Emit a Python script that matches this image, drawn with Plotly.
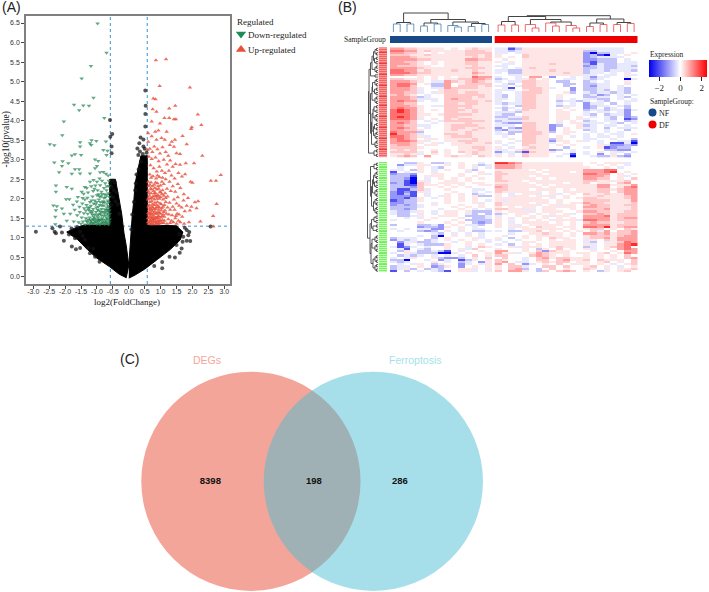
import plotly.graph_objects as go

W, H = 709, 592

# volcano: hand read points (log2FC, -log10 p)
fc_cut = 0.58
p_cut = 1.3
x_ticks = [-3.0, -2.5, -2.0, -1.5, -1.0, -0.5, 0.0, 0.5, 1.0, 1.5, 2.0, 2.5, 3.0]
y_ticks = [0.0, 0.5, 1.0, 1.5, 2.0, 2.5, 3.0, 3.5, 4.0, 4.5, 5.0, 5.5, 6.0, 6.5]

down_pts = [
    (-.98, 6.49), (-.70, 5.74), (-1.19, 5.40), (-1.48, 5.08), (-1.11, 4.59), (-1.72, 4.41), (-1.43, 4.39), (-1.56, 4.27),
    (-1.25, 4.38), (-2.04, 3.98), (-.77, 4.07), (-2.09, 3.63), (-2.48, 3.40), (-2.34, 3.37), (-1.53, 3.45), (-1.53, 3.34),
    (-1.17, 3.50), (-1.02, 3.48), (-1.22, 3.42), (-1.18, 3.38), (-.72, 3.47), (-.80, 3.25), (-.67, 3.23), (-1.79, 3.11),
    (-1.69, 3.14), (-1.50, 3.12), (-.70, 3.12), (-1.06, 3.01), (-.96, 2.97), (-2.08, 2.96), (-2.34, 2.93), (-1.90, 2.91),
    (-2.10, 2.84), (-2.19, 2.68), (-1.69, 2.76), (-1.56, 2.76), (-1.79, 2.64), (-1.53, 2.65), (-1.22, 2.65), (-1.00, 2.84),
    (-1.06, 2.78), (-.90, 2.68), (-.80, 2.69), (-.72, 2.64), (-.65, 2.60), (-2.29, 2.34), (-2.29, 2.18), (-1.95, 2.30),
    (-1.79, 2.26), (-1.38, 2.30), (-1.22, 2.44), (-1.11, 2.48), (-1.00, 2.44), (-.92, 2.52), (-.84, 2.46), (-.74, 2.40),
    (-.63, 2.46), (-.62, 2.32), (-1.48, 2.18), (-1.97, 1.99), (-1.87, 1.99), (-1.63, 1.93), (-2.37, 1.83), (-2.26, 1.81),
    (-2.10, 1.75), (-2.29, 1.71), (-2.31, 1.54), (-2.04, 1.62), (-1.84, 1.62), (-2.31, 1.35), (-1.95, 1.44), (-1.75, 1.85),
    (-1.70, 1.72), (-1.60, 2.05), (-1.42, 2.13), (-1.32, 2.28), (-1.28, 2.16), (-1.18, 2.32), (-1.12, 2.20), (-1.05, 2.34),
    (-.98, 2.22), (-.90, 2.35), (-.86, 2.18), (-.78, 2.28), (-.70, 2.22), (-.64, 2.14), (-1.38, 1.98), (-1.30, 2.03),
    (-1.22, 1.92), (-1.14, 2.06), (-1.07, 1.96), (-1.00, 2.09), (-.94, 1.98), (-.87, 2.06), (-.80, 1.94), (-.73, 2.04),
    (-.66, 1.96), (-.61, 2.05), (-1.55, 1.80), (-1.46, 1.88), (-1.40, 1.76), (-1.33, 1.84), (-1.26, 1.72), (-1.19, 1.82),
    (-1.12, 1.74), (-1.04, 1.86), (-.98, 1.72), (-.91, 1.84), (-.85, 1.74), (-.78, 1.83), (-.71, 1.72), (-.65, 1.82),
    (-.61, 1.70), (-1.62, 1.58), (-1.54, 1.66), (-1.48, 1.52), (-1.41, 1.63), (-1.35, 1.50), (-1.29, 1.62), (-1.23, 1.52),
    (-1.17, 1.64), (-1.10, 1.54), (-1.03, 1.66), (-.96, 1.53), (-.90, 1.62), (-.84, 1.50), (-.77, 1.63), (-.70, 1.52),
    (-.64, 1.60), (-.60, 1.48), (-1.73, 1.42), (-1.58, 1.40), (-1.50, 1.36), (-1.44, 1.42), (-1.37, 1.34), (-1.30, 1.41),
    (-1.24, 1.35), (-1.18, 1.43), (-1.12, 1.36), (-1.06, 1.44), (-1.00, 1.35), (-.94, 1.43), (-.88, 1.36), (-.82, 1.42),
    (-.76, 1.35), (-.71, 1.42), (-.66, 1.36), (-.61, 1.40), (-1.35, 1.70), (-1.15, 1.68), (-.93, 1.70), (-.74, 1.66),
    (-1.24, 1.78), (-1.02, 1.78), (-.82, 1.90), (-.68, 1.88), (-1.10, 1.47), (-.92, 1.46), (-.73, 1.46), (-.79, 1.56),
    (-.62, 1.55), (-.66, 1.70), (-.86, 1.58), (-1.45, 2.02), (-1.08, 2.26), (-.95, 2.12), (-.76, 2.12), (-.69, 2.32),
    (-.63, 1.34), (-.69, 1.38), (-.74, 1.40), (-.79, 1.38), (-.85, 1.39), (-.91, 1.34), (-.97, 1.39), (-1.03, 1.41),
    (-1.09, 1.39), (-1.15, 1.39), (-1.21, 1.39), (-.63, 1.46), (-.68, 1.49), (-.72, 1.58), (-.81, 1.47), (-.87, 1.46),
    (-.94, 1.48), (-.99, 1.46), (-1.05, 1.50), (-1.13, 1.49), (-1.20, 1.46), (-1.27, 1.47), (-1.33, 1.44), (-.60, 1.62),
    (-.67, 1.63), (-.75, 1.73), (-.82, 1.67), (-.88, 1.66), (-.95, 1.60), (-1.00, 1.58), (-1.07, 1.60), (-1.14, 1.59),
    (-1.21, 1.68), (-1.28, 1.77), (-.62, 1.78), (-.69, 1.78), (-.76, 1.91), (-.84, 1.82), (-.90, 1.92), (-.96, 1.80),
    (-1.01, 1.92), (-1.10, 1.88), (-1.17, 1.96), (-.63, 1.92), (-.70, 2.10), (-.78, 2.02), (-.84, 2.12), (-.92, 2.06),
]

up_pts = [
    (.85, 5.55), (1.17, 5.57), (.97, 4.89), (1.92, 4.85), (.77, 4.57), (.84, 4.55), (1.46, 4.38), (1.27, 4.31),
    (.75, 4.29), (.87, 4.23), (2.17, 4.16), (1.12, 4.07), (1.27, 4.07), (1.42, 4.04), (1.48, 4.04), (.98, 3.93),
    (.72, 3.98), (2.28, 3.89), (1.98, 3.83), (1.96, 3.79), (.83, 3.72), (.61, 3.68), (1.19, 3.72), (.93, 3.75),
    (1.69, 3.61), (1.45, 3.51), (1.35, 3.46), (1.29, 3.38), (1.13, 3.51), (1.03, 3.56), (.87, 3.51), (.72, 3.60),
    (.59, 3.25), (.61, 3.46), (1.82, 3.40), (1.42, 3.33), (1.50, 3.17), (1.61, 3.15), (2.31, 3.10), (1.79, 2.91),
    (2.05, 2.91), (1.61, 2.87), (1.47, 2.89), (2.89, 2.61), (2.58, 2.46), (2.74, 2.46), (1.94, 2.44), (2.00, 2.41),
    (1.77, 2.63), (1.56, 2.66), (1.67, 2.57), (2.76, 1.87), (2.18, 1.94), (2.08, 1.91), (1.97, 1.80), (2.65, 1.56),
    (2.25, 1.42), (1.89, 1.40), (2.13, 1.76), (1.73, 2.12), (2.65, 1.29), (.66, 3.28), (.74, 3.20), (.80, 3.34),
    (.90, 3.27), (.98, 3.16), (1.06, 3.32), (1.16, 3.20), (1.24, 3.10), (1.30, 2.98), (1.38, 2.82), (1.20, 2.88),
    (1.10, 3.00), (.94, 2.96), (.84, 3.06), (.72, 3.02), (.63, 3.08), (.68, 2.86), (.78, 2.78), (.88, 2.70),
    (.96, 2.82), (1.04, 2.72), (1.14, 2.66), (1.26, 2.72), (1.34, 2.60), (1.44, 2.52), (1.54, 2.38), (1.62, 2.28),
    (1.72, 1.96), (1.82, 1.82), (1.86, 2.02), (1.76, 1.68), (1.68, 1.54), (1.62, 1.40), (1.74, 1.36), (1.92, 1.70),
    (1.58, 1.82), (1.54, 2.04), (1.46, 2.18), (1.38, 2.32), (1.28, 2.44), (1.16, 2.50), (1.06, 2.54), (.96, 2.56),
    (.86, 2.52), (.76, 2.58), (.66, 2.62), (.61, 2.44), (.70, 2.42), (.80, 2.36), (.90, 2.40), (1.00, 2.34),
    (1.10, 2.38), (1.20, 2.26), (1.32, 2.20), (1.42, 1.98), (1.50, 1.88), (1.44, 1.72), (1.52, 1.62), (1.46, 1.50),
    (1.56, 1.44), (1.50, 1.36), (1.40, 1.40), (1.36, 1.58), (1.30, 1.72), (1.28, 1.90), (1.22, 2.06), (1.14, 2.14),
    (1.06, 2.22), (.98, 2.18), (.88, 2.24), (.78, 2.20), (.68, 2.26), (.61, 2.20), (.65, 2.08), (.73, 2.02),
    (.82, 2.08), (.91, 2.10), (1.00, 2.04), (1.08, 1.98), (1.16, 1.92), (1.22, 1.78), (1.18, 1.62), (1.24, 1.48),
    (1.30, 1.38), (1.20, 1.36), (1.12, 1.44), (1.08, 1.60), (1.04, 1.76), (.98, 1.88), (.90, 1.92), (.82, 1.90),
    (.74, 1.86), (.66, 1.92), (.60, 1.98), (.62, 1.80), (.70, 1.72), (.78, 1.74), (.86, 1.78), (.94, 1.72),
    (1.00, 1.62), (.92, 1.56), (.84, 1.62), (.76, 1.58), (.68, 1.60), (.61, 1.64), (.60, 1.50), (.66, 1.46),
    (.74, 1.44), (.82, 1.48), (.90, 1.42), (.98, 1.46), (1.04, 1.38), (.94, 1.35), (.86, 1.36), (.78, 1.35),
    (.70, 1.35), (.63, 1.36), (.60, 1.40), (.72, 1.52), (.80, 1.54), (.88, 1.50), (.64, 1.72), (.72, 1.94),
    (.80, 1.98), (.88, 2.00), (.96, 2.00), (1.12, 1.84), (1.14, 1.70), (1.34, 1.44), (1.16, 2.02), (.70, 2.14),
    (.84, 2.14), (.94, 2.26), (1.04, 2.12), (1.26, 1.60), (1.38, 1.80), (1.48, 1.56), (1.58, 1.60), (1.66, 1.78),
    (.64, 1.40), (.68, 1.42), (.72, 1.38), (.76, 1.44), (.80, 1.40), (.84, 1.42), (.88, 1.38), (.92, 1.44),
    (.96, 1.38), (1.00, 1.42), (1.06, 1.46), (1.10, 1.38), (.63, 1.52), (.67, 1.54), (.71, 1.47), (.75, 1.51),
    (.79, 1.48), (.85, 1.52), (.91, 1.50), (.95, 1.54), (1.01, 1.52), (1.05, 1.56), (1.12, 1.54), (.62, 1.60),
    (.66, 1.66), (.70, 1.62), (.74, 1.68), (.78, 1.64), (.82, 1.68), (.88, 1.62), (.92, 1.66), (.96, 1.64),
    (1.02, 1.70), (1.10, 1.66), (.64, 1.84), (.67, 1.76), (.72, 1.80), (.76, 1.78), (.80, 1.84), (.84, 1.74),
    (.88, 1.84), (.92, 1.80), (.96, 1.78), (1.02, 1.86), (1.08, 1.80), (.62, 2.02), (.68, 2.00), (.76, 2.06),
    (.80, 2.14), (.86, 2.06), (.94, 2.06), (1.00, 2.16), (1.10, 2.08), (.63, 2.14), (.72, 2.24), (.82, 2.28),
    (.92, 2.32), (.62, 2.32), (.74, 2.32), (.84, 2.42), (1.04, 2.44), (.66, 2.36), (.70, 2.54), (.90, 2.60),
]

# dense black part of the volcano, outline
mass_left_x = [0, -.03, -.08, -.15, -.22, -.3, -.38, -.42, -.6, -.6, -1.4, -1.7, -1.95, -1.6, -1.3, -1.0, -.6, -.3, -.08, 0]
mass_left_y = [.3, .55, .8, 1.12, 1.6, 1.97, 2.4, 2.5, 2.5, 1.33, 1.33, 1.25, 1.15, .95, .7, .48, .26, .07, -.02, .3]
mass_right_x = [0, .02, .05, .07, .11, .16, .2, .3, .38, .58, .58, 1.5, 1.7, 1.62, 1.3, .9, .5, .2, 0]
mass_right_y = [.3, .55, .8, 1.12, 1.6, 1.97, 2.4, 2.8, 3.1, 3.1, 1.33, 1.31, 1.15, .95, .7, .45, .2, .05, -.03]

other_pts = [
    (-2.92, 1.16), (-2.40, 1.25), (-2.33, 1.16), (-2.29, 1.12), (-2.16, 1.29), (-2.04, .93), (-1.88, 1.09), (-1.79, .78),
    (-1.66, .71), (-1.53, .74), (-1.69, .99), (-1.53, 1.16), (-1.38, .95), (-1.27, .74), (-1.22, .61), (-1.06, .52),
    (-.92, .39), (-2.10, 1.14), (-1.80, 1.24), (-1.62, 1.28), (-1.45, 1.05), (-1.12, .72), (-.59, 4.02), (-.52, 3.66),
    (-.58, 3.59), (-.54, 3.34), (-.54, 3.17), (-.50, 2.46), (-.44, 2.42), (-.58, 2.40), (-.54, 2.30), (-.47, 2.22),
    (-.39, 2.16), (-.58, 2.12), (-.50, 2.04), (-.42, 1.94), (-.35, 1.86), (-.55, 1.84), (-.30, 1.62), (-.62, 1.70),
    (.52, 4.77), (.53, 4.38), (.52, 4.17), (.52, 3.85), (.37, 3.57), (.46, 3.52), (.33, 3.42), (.27, 3.29),
    (.35, 3.21), (.46, 3.34), (.50, 3.28), (.56, 3.18), (.30, 3.12), (.44, 3.15), (.38, 2.95), (.24, 2.62),
    (.22, 2.40), (.20, 2.22), (.16, 1.92), (.11, 1.60), (.08, 1.22), (.31, 2.76), (2.57, 1.29), (1.82, 1.20),
    (1.87, 1.07), (1.71, 1.03), (1.69, .90), (1.82, .93), (1.66, .73), (1.45, .50), (1.05, .22), (1.50, .82),
    (1.76, 1.26), (1.90, 1.15), (1.58, 1.10), (1.93, .92), (1.60, .62), (1.28, .52), (1.05, .38), (.80, .28),
]

# heatmap cells, one character per cell: levels in code below
heat_levels = {".": 0, "1": .25, "2": .55, "3": .95, "4": 1.4, "5": 2.1,
               "a": -.25, "b": -.7, "c": -1.2, "d": -2.0, "e": -2.9}

heat_upper_left = [
    "33221111.1.1211", "443312111112221", "33221.1.1112222", "222112111112212", "333211111111212",
    "333322111113322", "33221.1.1112211", "33321.1.1112211", "322211..1111211", "333321111112221",
    "443312111211211", "444322111111321", "332211111111211", "....1.1.1.11433", "22111.1.1122332",
    "33321.aa3212321", "3443.1bb3.12222", "3442..bb3.22212", "33321.aa3222211", "3332a..12211111",
    "3322a.a12212211", "2321.a..2222221", "3332ba..2222121", "3332aaa.2322111", "3433a.a.2222212",
    "3322....2212211", "33321.aa2222111", "34331...2212111", "45431.1.2221211", "45431...2211211",
    "444311.12222111", "45431...2211111", "4443a.1.2122111", "3332.a.a2222221", "3432..a.1112111",
    "3322aa..1222211", "3432.a..1221121", "33221...1211211", "4333b...1112111", "5332a...2212111",
    "44321a..1222111", "3432.11.1111211", "34431a..1122211", "33321.1a.112112", "2332.11..111111",
    "22221.....11221", "1212..1.1.11121", "22221.2.1.21211", "1121a.1.1..1211", "1232.3..1211.21",
]
heat_upper_right = [
    "aadb1111111111aaaaa..", "aaba111111111bbaaaa..", "aa.a111111111cebbaa.1", "1...211111111cbdea.1.", "1.1.211111111cbaaaa..",
    ".a..111111111ccbbb.a.", "1.1.111111111cdbbb.aa", ".aa.111121111bdabbaaa", "aa..111111111cbabbaab", ".a.a121111111bbabbaaa",
    "aabb111121111baabaaab", "a.bb111111211baa.a.a.", "..aa111111111aa.aa.1a", "a..a.33.c..a.acaa..a.", "ba.a12.1..aa.aba...ea",
    "a.aa2211.bb..ba.a..1.", ".ab.2211..bb.bbaa..a.", "aa.a2211..b..bcaa.a..", ".ad.2221a..c.bbaa.ab.", "aaa.1221...c.bbab.ab.",
    "a..a2221..1b.abaabab.", "ab.a2211.1...bacb.a.a", "ab.a2211.1...bbaa.ab.", "aa.a2211.a.a.aabb.a.a", "a..a2211.baaba.ab..aa",
    "abaa2211.a.a.caa.b.a.", ".a.b2211.baa.cbaa.ab.", "aba.2211..1..cb.ba.b.", ".b.a2111.1.1.baabaaca", "aaab1111.11..a.aa.ac.",
    "abb.1111.11..ab.baac.", "bbaa2111.11.1.a.ab.cb", "aabb2111.11.1a..ab.dc", "baaa1111.1.1.ba.aa.ba", "abcc2211.a.11aaa.ab.a",
    "aaa.2211cb..1ba.aa.a.", "c.bc2211c.1.1aa.b.aaa", "bcaa2211c.1..ba.a..b.", "a.bb2221b.11..a.a.a..", "aab.2221..1..a.a.aa.1",
    ".a..2211.1.a.a.aa.a..", "..1.2211b1...aa..a..b", "1..a2211c11.1a.a..aad", "a.a.2211a.1....a.ddae", ".a..2111.1.1...1accbc",
    "1.a.1211..b..a.1dcbb.", "aa.12111cb.a....bbcc.", "caabd2111..a.a.1.1a.a", "a.a.2111..ad.a.c.a.b.", "1.1.2111.a.e..abb1bc.",
]
heat_lower_left = [
    "..bb1.bba.1..a.", ".caa11..1.1.1ba", ".a..1.ab..1.a.a", "aa.b1.a.1..1b..", "d.a.1.a....a.1.",
    "cbbc..11..1..1a", "bbbd.111..1.1..", "bbce.a.1.1.1.1.", "bbde1a..11.1...", "cbde21.1111.11.",
    "bbdd211.1.1..11", "bbbc2..1.1.1...", "bddb2a..1...aa.", "cdcd11...1..a.a", "cdbd.a..1.1.ba.",
    "cccd.a.a1.1.1bb", "ccdb1.a.1.1.1..", "dcbb1...1.1.1.a", "ccbb..a.1...1a.", "cbcba.1...1..1.",
    "bbbba....1.1.1.", "bbcb...a..1.a.a", "abba1.a.11.1bbb", "abb.a.a.11.ab.b", ".bba1..111.bbba",
    "..a.a.1...1.bba", "a....1...1.bbbb", "....1...1.1.bcb", "b...bbac.1.aab.", "....cbbc1.1.a..",
    "a.a.aacc..1.aa.", ".a..bcb.1.a.bba", "......ab.a.a.a.", "....a.be.1.1.a.", "baaa..b.1...1a.",
    "caba.ba.1.1.1.a", ".caabba..a.1..a", ".da.abbb1..1.1.", "adca.a..1..a.21", ".ad.ab..1.1a2..",
    ".b1.bbabd.a..1.", "a.1abbbeea.1..1", ".baba.a.a.a.2.1", "a.a1..1bccb.a.2", "bbe..a.ca.db1.a",
    "aba...1.a.ba.c1", ".a.a1.b1..ca.a1", "baa.1.cb1.c.1.1", "ba1b.bab..11a.a", "d.b.a.abd.11a.1",
]
heat_lower_right = [
    "5543111111111.1.111a.", "3332111111111..1.1.a.", "33321111111111..1.a..", "11111.1.1111133344...", "211111.1111.133345.1.",
    "2211111.111114433.1.1", "21111.11111113332.1a.", "211111.1.11113322.1.2", "2211.111111112211112.", "11111.1111.112.11.23.",
    "221111.1.1111113311134", "3211111.111111133.134", "22111.111.1.111221233", "2111111.1.1111122.233", "1.a.11a.1a.1.21121133",
    "1.a11.11a.1..11211123", "1111111.1.1.122111123", "1a111111.1...22221113", "21111.11.1.1132211112", "211111a.1a11.23221122",
    "1.1.11.11111.33221112", "2211a1.11..1.22231112", "1.111a.111..133221122", "b1.11.1.1.1a.22321222", "a..1.1.1a11..33341222",
    "1.a.11.1.1.1.33331233", "1.1.1.1.1111a44331222", "1.a.1111.1.1.23221122", "1.1a.11111.1.33331222", "1.a11.211.11.44351233",
    "..a.111111.1.122.1.21", "a.bb112.1.1.1.2a3.223", "..a..11211.1.33231223", ".a..1.1111.1.12221233", "1.b.1.1.211..12231333",
    "a..a..1.1.11.a1.21333", ".a..11..1111.ab.a1243", "a.b.1.1.1111.1a.11345", "..1a111.1211.ba.1234.", "1...1.b1.2.1.1a.1.343",
    "33..1.2c211...1..1.33", "311a.132111.11.12.143", "22...2321.1..1.1.1.2.", ".2..a.23122111.1.1.23", "21..a.22.23112.2111.2",
    "23.aa.12122.11.12.1.2", "3.2.ca.1.2.111.1.a.12", "1.22a..22.2..12.1.a.1", "1.23b.b.2.1..21.a.112", "2.331.b2.232.1.b1.12.",
]

sample_left = ["NF"] * 15
sample_right = ["DF"] * 21

# dendrogram links: (pos a, height a, pos b, height b, height of join)
top_leaf_links = [
    (0, 0, 1, 0, 8), (2, 0, 3, 0, 8), (4, 0, 5, 0, 6), (6, 0, 7, 0, 8), (9, 0, 10, 0, 5), (8, 0, 9.5, 5, 6.5),
    (11, 0, 12, 0, 5.5), (13, 0, 14, 0, 7.5),
]
top_leaf_links_df = [
    (15, 0, 16, 0, 7), (17, 0, 18, 0, 7), (20, 0, 21, 0, 4), (19, 0, 20.5, 4, 7.5), (23, 0, 24, 0, 6), (22, 0, 23.5, 6, 9),
    (26, 0, 27, 0, 4), (25, 0, 26.5, 4, 6.5), (28, 0, 29, 0, 5.5), (30, 0, 31, 0, 7.5), (32, 0, 33, 0, 7.5), (34, 0, 35, 0, 8.5),
]
top_links = [
    (.5, 8, 2.5, 8, 9.5), (4.5, 6, 6.5, 8, 9), (11.5, 5.5, 13.5, 7.5, 8.5), (8.75, 6.5, 12.5, 8.5, 10), (5.5, 9, 10.6, 10, 12.5),
    (1.5, 9.5, 8.05, 12.5, 19), (15.5, 7, 17.5, 7, 10.5), (22.75, 9, 25.75, 6.5, 10), (19.75, 7.5, 24.25, 10, 12.5),
    (16.5, 10.5, 22, 12.5, 15.5), (28.5, 5.5, 30.5, 7.5, 9), (32.5, 7.5, 34.5, 8.5, 9.5), (29.5, 9, 33.5, 9.5, 13),
    (19.25, 15.5, 31.5, 13, 16.3),
]
row_links = [
    (0, 0, 1, 0, 1.5), (2, 0, 3, 0, 1.5), (.5, 1.5, 2.5, 1.5, 3), (4, 0, 5, 0, 1.5), (6, 0, 7, 0, 2), (4.5, 1.5, 6.5, 2, 3.5),
    (1.5, 3, 5.5, 3.5, 4.5), (8, 0, 9, 0, 1.5), (10, 0, 11, 0, 1.5), (8.5, 1.5, 10.5, 1.5, 3), (3.5, 4.5, 9.5, 3, 6),
    (12, 0, 13, 0, 3), (6.5, 6, 12.5, 3, 7.5), (14, 0, 15, 0, 1.5), (16, 0, 17, 0, 1.5), (14.5, 1.5, 16.5, 1.5, 3),
    (18, 0, 19, 0, 1.5), (20, 0, 21, 0, 2), (18.5, 1.5, 20.5, 2, 3.5), (15.5, 3, 19.5, 3.5, 5.5), (22, 0, 23, 0, 1.5),
    (24, 0, 25, 0, 1.5), (22.5, 1.5, 24.5, 1.5, 3), (17.5, 5.5, 23.5, 3, 6), (26, 0, 27, 0, 1.5), (28, 0, 29, 0, 2),
    (26.5, 1.5, 28.5, 2, 4), (30, 0, 31, 0, 1.5), (32, 0, 33, 0, 1.5), (30.5, 1.5, 32.5, 1.5, 3), (27.5, 4, 31.5, 3, 5),
    (34, 0, 35, 0, 1.5), (36, 0, 37, 0, 1.5), (34.5, 1.5, 36.5, 1.5, 3.5), (38, 0, 39, 0, 1.5), (40, 0, 41, 0, 2),
    (38.5, 1.5, 40.5, 2, 3), (35.5, 3.5, 39.5, 3, 4.5), (29.5, 5, 37.5, 4.5, 6), (42, 0, 43, 0, 1.5), (44, 0, 45, 0, 2),
    (42.5, 1.5, 44.5, 2, 3), (33.5, 6, 43.5, 3, 6.5), (20.5, 6, 38.5, 6.5, 7.5), (9.5, 7.5, 29.5, 7.5, 9),
    (46, 0, 47, 0, 1.5), (48, 0, 49, 0, 1.5), (46.5, 1.5, 48.5, 1.5, 4), (19.5, 9, 47.5, 4, 9.5),
    (50, 0, 51, 0, 1.5), (52, 0, 53, 0, 1.5), (50.5, 1.5, 52.5, 1.5, 4), (54, 0, 55, 0, 1.5), (56, 0, 57, 0, 1.5),
    (54.5, 1.5, 56.5, 1.5, 3), (58, 0, 59, 0, 1.5), (60, 0, 61, 0, 2), (58.5, 1.5, 60.5, 2, 3.5), (55.5, 3, 59.5, 3.5, 4.5),
    (62, 0, 63, 0, 1.5), (64, 0, 65, 0, 1.5), (62.5, 1.5, 64.5, 1.5, 3), (57.5, 4.5, 63.5, 3, 5.5), (66, 0, 67, 0, 1.5),
    (68, 0, 69, 0, 1.5), (66.5, 1.5, 68.5, 1.5, 3), (70, 0, 71, 0, 1.5), (72, 0, 73, 0, 1.5), (70.5, 1.5, 72.5, 1.5, 3),
    (67.5, 3, 71.5, 3, 4.5), (60.5, 5.5, 69.5, 4.5, 6.5), (51.5, 4, 65, 6.5, 7.5), (74, 0, 75, 0, 2), (76, 0, 77, 0, 2),
    (74.5, 2, 76.5, 2, 4), (78, 0, 79, 0, 1.5), (80, 0, 81, 0, 1.5), (78.5, 1.5, 80.5, 1.5, 5), (75.5, 4, 79.5, 5, 6.5),
    (83, 0, 84, 0, 1.5), (85, 0, 86, 0, 1.5), (83.5, 1.5, 85.5, 1.5, 3), (87, 0, 88, 0, 1.5), (89, 0, 90, 0, 1.5),
    (87.5, 1.5, 89.5, 1.5, 3), (84.5, 3, 88.5, 3, 6), (92, 0, 93, 0, 1.5), (94, 0, 95, 0, 1.5), (92.5, 1.5, 94.5, 1.5, 3),
    (96, 0, 97, 0, 1.5), (98, 0, 99, 0, 1.5), (96.5, 1.5, 98.5, 1.5, 3), (93.5, 3, 97.5, 3, 5), (86.5, 6, 95.5, 5, 7),
    (77.5, 6.5, 91, 7, 8), (58, 7.5, 84, 8, 10.5),
]

venn_counts = ["8398", "198", "286"]
venn_sets = ["DEGs", "Ferroptosis"]
venn_centers = [-.56, .557]
venn_radius = 1.0


def px_x(a, b):
    return [a / W, b / W]


def px_y(top, bottom):
    return [1 - bottom / H, 1 - top / H]


def col_pos(c):
    return c if c < 15 else c + .4


def row_pos(r):
    return r if r < 50 else r + 2.08


def decode(rows, n):
    return [[heat_levels[ch] for ch in row.ljust(n, ".")[:n]] for row in rows]


def link_xy(links, fa, fb):
    # walk every link as an open bracket, None breaks the line
    aa, bb = [], []
    for a, ha, b, hb, top in links:
        aa += [fa(a), fa(a), fa(b), fa(b), None]
        bb += [fb(ha), fb(top), fb(top), fb(hb), None]
    return aa, bb


same = lambda v: v
serif = "Liberation Serif"
sans = "Liberation Sans"
green = "rgba(38,135,85,0.72)"
red = "rgba(232,78,58,0.8)"

fig = go.Figure()

# (A) volcano
for mx, my in [(mass_left_x, mass_left_y), (mass_right_x, mass_right_y)]:
    fig.add_trace(go.Scatter(x=mx, y=my, mode="lines", fill="toself", fillcolor="#000000",
                             line=dict(color="#000000", width=1), hoverinfo="skip", xaxis="x", yaxis="y"))
fig.add_trace(go.Scatter(x=[p[0] for p in other_pts], y=[p[1] for p in other_pts], mode="markers", name="NoDiff",
                         marker=dict(symbol="circle", size=4, color="rgba(20,20,20,0.72)"), xaxis="x", yaxis="y"))
fig.add_trace(go.Scatter(x=[p[0] for p in down_pts], y=[p[1] for p in down_pts], mode="markers", name="Down-regulated",
                         marker=dict(symbol="triangle-down", size=4, color=green), xaxis="x", yaxis="y"))
fig.add_trace(go.Scatter(x=[p[0] for p in up_pts], y=[p[1] for p in up_pts], mode="markers", name="Up-regulated",
                         marker=dict(symbol="triangle-up", size=4, color=red), xaxis="x", yaxis="y"))

# (B) heatmap blocks
left_cols = [col_pos(c) for c in range(15)]
right_cols = [col_pos(c) for c in range(15, 36)]
upper_rows = [row_pos(r) for r in range(50)]
lower_rows = [row_pos(r) for r in range(50, 100)]
for cols, rows, cells, n in [(left_cols, upper_rows, heat_upper_left, 15), (right_cols, upper_rows, heat_upper_right, 21),
                             (left_cols, lower_rows, heat_lower_left, 15), (right_cols, lower_rows, heat_lower_right, 21)]:
    fig.add_trace(go.Heatmap(x=cols, y=rows, z=decode(cells, n), coloraxis="coloraxis", hoverinfo="skip",
                             xaxis="x2", yaxis="y2"))

# sample group bar
group_scale = [[0, "#174A87"], [.5, "#174A87"], [.5, "#EE0000"], [1, "#EE0000"]]
for cols, groups in [(left_cols, sample_left), (right_cols, sample_right)]:
    fig.add_trace(go.Heatmap(x=cols, y=[0], z=[[0 if g == "NF" else 1 for g in groups]], colorscale=group_scale,
                             zmin=0, zmax=1, showscale=False, hoverinfo="skip", xaxis="x4", yaxis="y4"))

# row side stripes
side_scale = [[0, "#F03A3A"], [.5, "#F03A3A"], [.5, "#6EF055"], [1, "#6EF055"]]
for rows, code in [(upper_rows, 0), (lower_rows, 1)]:
    fig.add_trace(go.Heatmap(x=[0], y=rows, z=[[code] for _ in rows], colorscale=side_scale, zmin=0, zmax=1, ygap=.7,
                             showscale=False, hoverinfo="skip", xaxis="x6", yaxis="y6"))

# dendrograms
bx, by = link_xy(top_leaf_links, col_pos, same)
fig.add_trace(go.Scatter(x=bx, y=by, mode="lines", line=dict(color="#5B8DB8", width=.9), hoverinfo="skip", xaxis="x3", yaxis="y3"))
bx, by = link_xy(top_leaf_links_df, col_pos, same)
fig.add_trace(go.Scatter(x=bx, y=by, mode="lines", line=dict(color="#EE5A5A", width=.9), hoverinfo="skip", xaxis="x3", yaxis="y3"))
bx, by = link_xy(top_links, col_pos, same)
fig.add_trace(go.Scatter(x=bx, y=by, mode="lines", line=dict(color="#444444", width=1), hoverinfo="skip", xaxis="x3", yaxis="y3"))
ry, rx = link_xy(row_links, row_pos, same)
fig.add_trace(go.Scatter(x=rx, y=ry, mode="lines", line=dict(color="#444444", width=.9), hoverinfo="skip", xaxis="x5", yaxis="y5"))

# (C) venn labels
fig.add_trace(go.Scatter(x=[-.93, .015, .80], y=[0, 0, 0], mode="text", text=venn_counts, hoverinfo="skip",
                         textfont=dict(family=sans, size=9.5, color="#111111", weight="bold"), xaxis="x7", yaxis="y7"))

# keys for the legends, drawn on a page sized axis
fig.add_trace(go.Scatter(x=[241], y=[34], mode="markers", marker=dict(symbol="triangle-down", size=9, color="#1E8A55"),
                         hoverinfo="skip", xaxis="x8", yaxis="y8"))
fig.add_trace(go.Scatter(x=[241], y=[49.5], mode="markers", marker=dict(symbol="triangle-up", size=9, color="#E8503C"),
                         hoverinfo="skip", xaxis="x8", yaxis="y8"))
fig.add_trace(go.Scatter(x=[652.5], y=[112.5], mode="markers", marker=dict(symbol="circle", size=8, color="#174A87"),
                         hoverinfo="skip", xaxis="x8", yaxis="y8"))
fig.add_trace(go.Scatter(x=[652.5], y=[124.5], mode="markers", marker=dict(symbol="circle", size=8, color="#EE0000"),
                         hoverinfo="skip", xaxis="x8", yaxis="y8"))

shapes = [
    dict(type="line", xref="x", yref="y domain", x0=-fc_cut, x1=-fc_cut, y0=0, y1=1, layer="below", line=dict(color="#3C92D2", width=1, dash="dot")),
    dict(type="line", xref="x", yref="y domain", x0=fc_cut, x1=fc_cut, y0=0, y1=1, layer="below", line=dict(color="#3C92D2", width=1, dash="dot")),
    dict(type="line", xref="x domain", yref="y", x0=0, x1=1, y0=p_cut, y1=p_cut, layer="below", line=dict(color="#3C92D2", width=1, dash="dot")),
    dict(type="circle", xref="x7", yref="y7", x0=venn_centers[0] - venn_radius, x1=venn_centers[0] + venn_radius,
         y0=-venn_radius, y1=venn_radius, fillcolor="#F4A59A", line=dict(width=0), layer="below"),
    dict(type="circle", xref="x7", yref="y7", x0=venn_centers[1] - venn_radius, x1=venn_centers[1] + venn_radius,
         y0=-venn_radius, y1=venn_radius, fillcolor="rgba(73,190,212,0.49)", line=dict(width=0), layer="below"),
]


def note(x, y, text, size=9.5, family=serif, color="#222222", anchor="left", angle=0, weight=None):
    return dict(xref="paper", yref="paper", x=x / W, y=1 - y / H, text=text, showarrow=False, xanchor=anchor,
                yanchor="middle", textangle=angle, font=dict(family=family, size=size, color=color, weight=weight))


annotations = [
    note(0, 7, "(A)", 14, sans), note(336, 7, "(B)", 14, sans), note(118, 359, "(C)", 14, sans),
    note(235, 22, "Regulated", 9), note(245.5, 35, "Down-regulated", 9), note(245.5, 49.5, "Up-regulated", 9),
    note(388, 40, "SampleGroup", 7.5, anchor="right"), note(648, 54, "Expression", 7.5),
    note(648, 102, "SampleGroup:", 7.5), note(657, 113.5, "NF", 8), note(657, 125, "DF", 8),
    note(207, 360, venn_sets[0], 10.5, sans, "#F4A59A", "center"), note(415, 360, venn_sets[1], 10.5, sans, "#A6DFEA", "center"),
    note(5.5, 140, "-log10(pvalue)", 9.5, angle=-90, anchor="center"), note(127, 301.5, "log2(FoldChange)", 9, anchor="center"),
]

hidden = dict(visible=False, showgrid=False, zeroline=False)
heat_x_range = [-.5, 35.93]
heat_y_range = [101.58, -.5]
frame = "#808080"

fig.update_layout(
    width=W, height=H, margin=dict(l=0, r=0, t=0, b=0), paper_bgcolor="white", plot_bgcolor="rgba(0,0,0,0)",
    showlegend=False, shapes=shapes, annotations=annotations,
    xaxis=dict(domain=px_x(26, 230), range=[-3.23, 3.18], tickvals=x_ticks, ticktext=[f"{v:.1f}" for v in x_ticks],
               showgrid=False, zeroline=False, showline=True, mirror=True, linecolor=frame, linewidth=1.5,
               ticks="outside", ticklen=3, tickcolor="#444444", tickangle=0, ticklabelstandoff=-3,
               tickfont=dict(family=sans, size=7, color="#333333")),
    yaxis=dict(domain=px_y(16, 284), range=[-.18, 6.68], tickvals=y_ticks, ticktext=[f"{v:.1f}" for v in y_ticks],
               showgrid=False, zeroline=False, showline=True, mirror=True, linecolor=frame, linewidth=1.5,
               ticks="outside", ticklen=3, tickcolor="#444444", tickfont=dict(family=sans, size=7, color="#333333")),
    xaxis2=dict(domain=px_x(390, 637.7), range=heat_x_range, **hidden),
    yaxis2=dict(domain=px_y(47.3, 272.3), range=heat_y_range, **hidden),
    xaxis3=dict(domain=px_x(390, 637.7), range=heat_x_range, **hidden),
    yaxis3=dict(domain=px_y(12, 32), range=[0, 20], **hidden),
    xaxis4=dict(domain=px_x(390, 637.7), range=heat_x_range, **hidden),
    yaxis4=dict(domain=px_y(36, 43.3), range=[-.5, .5], **hidden),
    xaxis5=dict(domain=px_x(367, 378), range=[11, 0], **hidden),
    yaxis5=dict(domain=px_y(47.3, 272.3), range=heat_y_range, **hidden),
    xaxis6=dict(domain=px_x(378.5, 387), range=[-.5, .5], **hidden),
    yaxis6=dict(domain=px_y(47.3, 272.3), range=heat_y_range, **hidden),
    xaxis7=dict(domain=px_x(136.9, 487.7), range=[-1.6, 1.6], **hidden),
    yaxis7=dict(domain=px_y(345, 592), range=[-1.01, 1.244], **hidden),
    xaxis8=dict(domain=[0, 1], range=[0, W], **hidden),
    yaxis8=dict(domain=[0, 1], range=[H, 0], **hidden),
    coloraxis=dict(
        colorscale=[[0, "#0000EE"], [.538, "#FFFFFF"], [1, "#FF0000"]], cmin=-2.92, cmax=2.51,
        colorbar=dict(orientation="h", x=649.3 / W, xanchor="left", y=1 - 60 / H, yanchor="top", len=58.4 / W, lenmode="fraction",
                      thickness=17, thicknessmode="pixels", xpad=0, ypad=0, outlinewidth=0,
                      tickvals=[-2, 0, 2], ticktext=["−2", "0", "2"], ticks="outside", ticklen=4, tickcolor="#222222",
                      tickfont=dict(family=serif, size=9, color="#222222")),
    ),
)

# the page's default body margin would push the figure off the window
fig.write_html("out.html", config={"displayModeBar": False}, post_script="document.body.style.margin='0';")
